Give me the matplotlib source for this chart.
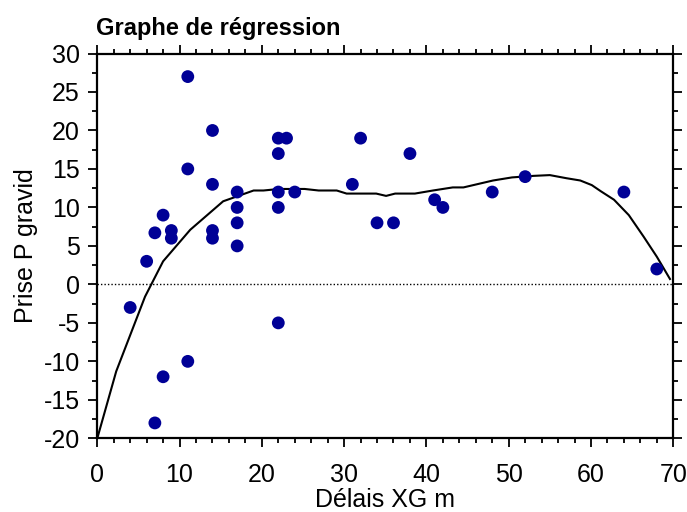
import matplotlib
matplotlib.use("Agg")
import matplotlib.pyplot as plt
from matplotlib.ticker import MultipleLocator

plt.rcParams['font.family'] = ['Liberation Sans', 'DejaVu Sans']
plt.rcParams['axes.unicode_minus'] = False

# scatter data
delay = [4, 6, 7, 7, 8, 8, 9, 9, 11, 11, 11, 14, 14, 14, 14, 17, 17, 17, 17,
         22, 22, 22, 22, 22, 23, 24, 31, 32, 34, 36, 38, 41, 42, 48, 52, 64, 68]
gain = [-3, 3, 6.7, -18, 9, -12, 7, 6, 27, 15, -10, 20, 13, 7, 6, 12, 10, 8, 5,
        19, 17, 12, 10, -5, 19, 12, 13, 19, 8, 8, 17, 11, 10, 12, 14, 12, 2]

# regression curve
fit_x = [0, 2.3, 5.8, 8, 11.3, 15.3, 19, 20.2, 22.1, 23.4, 25.2, 26.9, 29.1, 30.3,
         33.9, 35.1, 36.2, 38.6, 40.8, 43.2, 44.5, 48.1, 50.4, 53, 55, 57, 58.7,
         60.1, 61.2, 62.8, 64.6, 66.4, 68, 69.6]
fit_y = [-20, -11.3, -1.6, 3, 7.1, 10.8, 12.2, 12.2, 12.4, 12.4, 12.4, 12.2, 12.2,
         11.8, 11.8, 11.5, 11.8, 11.8, 12.2, 12.6, 12.6, 13.5, 13.9, 14.1, 14.2,
         13.8, 13.5, 12.9, 12.1, 11, 9, 6.2, 3.6, 0.7]

fig = plt.figure(figsize=(6.87, 5.12), dpi=100)
ax = fig.add_axes([0.1416, 0.1439, 0.8384, 0.7516])

ax.plot([0, 70], [0, 0], color='black', linestyle=(0, (1, 1.5)), linewidth=1.0, zorder=1)
ax.plot(fit_x, fit_y, color='black', linewidth=1.5, zorder=2)
ax.scatter(delay, gain, s=85, color='#000096', edgecolors='none', zorder=3)

ax.set_xlim(0, 70)
ax.set_ylim(-20, 30)
ax.xaxis.set_major_locator(MultipleLocator(10))
ax.xaxis.set_minor_locator(MultipleLocator(2))
ax.yaxis.set_major_locator(MultipleLocator(5))
ax.yaxis.set_minor_locator(MultipleLocator(2.5))

for s in ax.spines.values():
    s.set_linewidth(1.6)

ax.tick_params(which='both', direction='out', top=True, right=True,
               labeltop=False, labelright=False, width=1.3)
ax.tick_params(which='major', length=6.5, labelsize=18)
ax.tick_params(which='minor', length=3.5)
ax.tick_params(axis='x', which='major', pad=11)
ax.tick_params(axis='y', which='major', pad=6)

ax.set_xlabel('Délais XG m', fontsize=18)
ax.set_ylabel('Prise P gravid', fontsize=18)
ax.xaxis.set_label_coords(0.5, -0.128)
ax.yaxis.set_label_coords(-0.103, 0.5)
ax.text(-0.003, 1.035, 'Graphe de régression', transform=ax.transAxes,
        fontsize=17, fontweight='bold', ha='left', va='bottom')

fig.savefig('out.png', dpi=100)
